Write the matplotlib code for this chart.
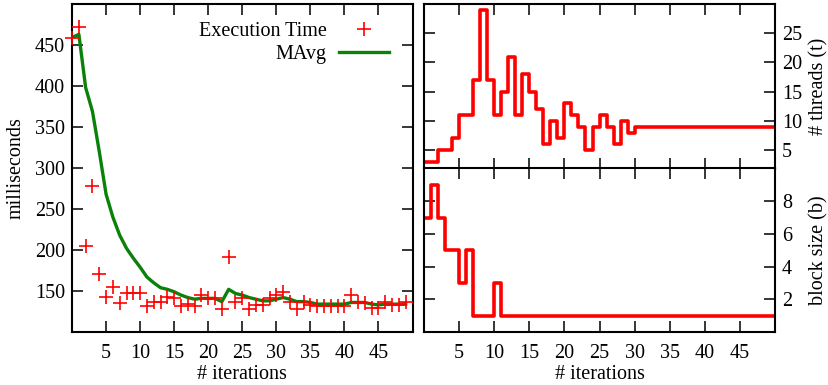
import numpy as np
import matplotlib
matplotlib.use("Agg")
import matplotlib.pyplot as plt

plt.rcParams['font.family'] = ['Liberation Serif', 'DejaVu Serif']
plt.rcParams['font.size'] = 14.5

# data
iters = list(range(50))
exec_time = [459, 472, 205, 278, 171, 143, 155, 135, 147, 147,
             147, 132, 137, 137, 143, 141, 132, 134, 132, 145,
             141, 141, 128, 192, 136, 141, 128, 133, 133, 141,
             145, 149, 136, 128, 136, 133, 132, 132, 132, 132,
             132, 145, 136, 135, 129, 129, 137, 133, 133, 137]
mavg = [459, 463, 398, 369, 320, 268, 240, 218, 202, 190,
        179, 167, 160, 154, 152, 149, 145, 142, 140, 141,
        141, 141, 137, 152, 147, 145, 142, 140, 138, 138,
        140, 142, 140, 137, 137, 136, 134, 134, 134, 134,
        134, 136, 136, 136, 134, 133, 134, 134, 134, 134]
threads = [3, 3, 5, 5, 7, 11, 11, 17, 29, 17,
           11, 15, 21, 11, 18, 15, 12, 6, 10, 7,
           13, 11, 9, 5, 9, 11, 9, 6, 10, 8] + [9] * 20
block = [7, 9, 7, 5, 5, 3, 5, 1, 1, 1, 3] + [1] * 39

RED = '#ff0000'
GREEN = '#0a820a'

fig = plt.figure(figsize=(8.29, 3.85), dpi=100)
ax1 = fig.add_axes([0.0869, 0.1377, 0.4107, 0.8519])
ax2 = fig.add_axes([0.5115, 0.5623, 0.4234, 0.4273])
ax3 = fig.add_axes([0.5115, 0.1377, 0.4234, 0.4247])


def style(ax):
    for s in ax.spines.values():
        s.set_linewidth(1.5)
    ax.tick_params(direction='in', length=8, width=1.1, top=True, right=True,
                   labelsize=14.5, pad=5)
    ax.tick_params(axis='x', pad=9)


# left: execution time + moving average
ax1.plot(iters, exec_time, '+', color=RED, ms=10, mew=1.2, label='Execution Time',
         clip_on=False, zorder=3)
ax1.plot(iters, mavg, '-', color=GREEN, lw=2.4, label='MAvg')
ax1.set_xlim(0, 50)
ax1.set_ylim(100, 500)
ax1.set_xticks(range(5, 50, 5))
ax1.set_yticks(range(150, 500, 50))
style(ax1)
ax1.set_xlabel('# iterations', labelpad=1)
ax1.set_ylabel('milliseconds', labelpad=7)
ax1.legend(loc='upper right', bbox_to_anchor=(0.985, 1.0), frameon=False,
           markerfirst=False, handlelength=2.5, handletextpad=0.6,
           labelspacing=0.2, fontsize=14.5)

# top right: threads
ax2.step(iters + [50], threads + [threads[-1]], where='post', color=RED, lw=2.6)
ax2.set_xlim(0, 50)
ax2.set_ylim(1.85, 30)
ax2.set_xticks(range(5, 50, 5))
ax2.set_yticks(range(5, 30, 5))
style(ax2)
ax2.tick_params(labelleft=False, labelright=True, labelbottom=False)
ax2.yaxis.set_label_position('right')
ax2.set_ylabel('# threads (t)', labelpad=5)

# bottom right: block size
ax3.step(iters + [50], block + [block[-1]], where='post', color=RED, lw=2.6)
ax3.set_xlim(0, 50)
ax3.set_ylim(0, 10)
ax3.set_xticks(range(5, 50, 5))
ax3.set_yticks(range(2, 10, 2))
style(ax3)
ax3.tick_params(labelleft=False, labelright=True)
ax3.yaxis.set_label_position('right')
ax3.set_ylabel('block size (b)', labelpad=12)
ax3.set_xlabel('# iterations', labelpad=1)

fig.savefig('out.png', dpi=100)
